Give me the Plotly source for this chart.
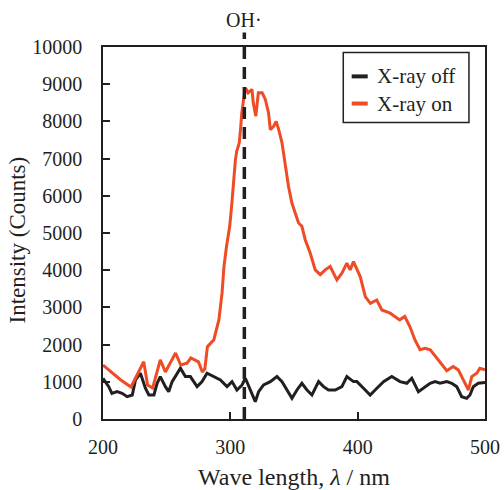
import plotly.graph_objects as go

# ---- data ----
on_x = [200, 206, 214, 222, 224, 232, 235, 239, 245, 249, 257, 261, 266, 269, 275, 278, 280,
        282, 287, 291, 293.5, 295, 297, 299.5, 301, 302.6, 304, 305, 307, 308, 309, 310.4, 312,
        314, 317, 318, 320, 322, 325, 327.5, 330, 331.4, 334, 336, 338, 340.6, 343, 345.7, 348.4,
        351, 353.6, 356.2, 358.8, 362.7, 366.7, 370.6, 374.5, 378.4, 383.7, 387.6, 391.5, 394.1,
        396.7, 402, 406, 410, 415, 419, 425.5, 433, 437, 441, 445, 449, 453, 457, 461, 465, 470,
        475, 479, 483, 487, 489.6, 493.5, 496, 500]
on_y = [1450, 1270, 1050, 860, 1000, 1540, 915, 835, 1590, 1265, 1775, 1450, 1500, 1640, 1535, 1265, 1350,
        1946, 2127, 2665, 3390, 4100, 4640, 5180, 5715, 6430, 6970, 7195, 7420, 7780, 8230, 8590, 8900,
        8770, 8860, 8500, 8140, 8770, 8770, 8590, 8230, 7780, 7870, 8000, 7780, 7420, 6880, 6250, 5800,
        5540, 5270, 5180, 4820, 4460, 4010, 3880, 4010, 4100, 3740, 3920, 4190, 4010,
        4230, 3830, 3290, 3110, 3200, 2930, 2845, 2665, 2755, 2485, 2125, 1860, 1900, 1860, 1680, 1500, 1300,
        1410, 1320, 1050, 780, 1140, 1230, 1365, 1320]

off_x = [200, 204.5, 207, 211, 215, 219, 223, 225.5, 229.4, 233.3, 236, 240, 242.5, 245, 249, 251.6,
         254.3, 258.2, 260.8, 264.7, 268.6, 273.9, 277.8, 281.7, 286.9, 292.2, 297.4, 301.3, 305.2,
         309.2, 311.8, 315.7, 319.6, 322.2, 326.1, 331.4, 336.6, 340.6, 344.5, 348.4, 352.3, 356.2,
         360.2, 364.1, 369.3, 373.2, 377.1, 382.4, 387.6, 391.5, 396.7, 399.4, 404.6, 409.8, 415.1,
         420.3, 426.8, 433.3, 438.6, 442.5, 447.7, 451.6, 456.9, 460.8, 464.7, 470, 473.9, 477.8,
         481.7, 485.6, 488.2, 490.8, 494.7, 500]
off_y = [1095, 870, 690, 735, 690, 600, 645, 1050, 1230, 826, 645, 645, 960, 1140, 870, 735,
         1005, 1230, 1365, 1140, 1140, 870, 1005, 1230, 1140, 1050, 870, 1005, 780,
         915, 1095, 780, 465, 735, 915, 1005, 1140, 1005, 780, 555, 780, 960,
         780, 645, 1005, 870, 780, 780, 870, 1140, 1005, 1005, 826, 645, 826,
         1005, 1140, 1005, 960, 1095, 735, 826, 960, 1005, 960, 1005, 960, 870,
         600, 555, 645, 870, 960, 980]

oh_wavelength = 311
series_names = ["X-ray off", "X-ray on"]
x_ticks = [200, 300, 400, 500]

BLACK = "#231F20"
ORANGE = "#EF4B24"
FONT = "Liberation Serif"

fig = go.Figure()
fig.add_trace(go.Scatter(x=off_x, y=off_y, mode="lines", name=series_names[0],
                         line=dict(color=BLACK, width=3), showlegend=False))
fig.add_trace(go.Scatter(x=on_x, y=on_y, mode="lines", name=series_names[1],
                         line=dict(color=ORANGE, width=3), showlegend=False))

# dashed OH line
fig.add_shape(type="line", xref="x", yref="paper", x0=oh_wavelength, x1=oh_wavelength,
              y0=0, y1=1.039, line=dict(color=BLACK, width=3.5, dash="12px,8px"), layer="above")
fig.add_annotation(x=oh_wavelength, xref="x", y=1.072, yref="paper", text="OH·",
                   showarrow=False, font=dict(family=FONT, size=20, color=BLACK),
                   xanchor="center", yanchor="middle")

# y-axis title
fig.add_annotation(x=-0.223, xref="paper", y=0.482, yref="paper", text="Intensity (Counts)",
                   textangle=-90, showarrow=False, xanchor="center", yanchor="middle",
                   font=dict(family=FONT, size=23, color=BLACK))

# legend (custom)
fig.add_shape(type="rect", xref="paper", yref="paper", x0=0.629, x1=0.958, y0=0.797, y1=0.985,
              line=dict(color=BLACK, width=1.5), fillcolor="white", layer="above")
for i, (nm, col) in enumerate(zip(series_names, [BLACK, ORANGE])):
    yy = 0.921 - i * 0.073
    fig.add_shape(type="line", xref="paper", yref="paper", x0=0.651, x1=0.693, y0=yy, y1=yy,
                  line=dict(color=col, width=4), layer="above")
    fig.add_annotation(x=0.712, xref="paper", y=yy, yref="paper", text=nm, showarrow=False,
                       xanchor="left", yanchor="middle",
                       font=dict(family=FONT, size=21, color=BLACK))

fig.update_layout(
    width=504, height=490,
    margin=dict(l=103, r=19, t=47, b=71),
    paper_bgcolor="white", plot_bgcolor="white",
    font=dict(family=FONT, size=20, color=BLACK),
    showlegend=False,
)
fig.update_xaxes(range=[200, 500], tickvals=x_ticks, ticks="inside", ticklen=7, tickwidth=1.5,
                 tickcolor=BLACK, showline=True, linecolor=BLACK, linewidth=1.5, mirror=True,
                 showgrid=False, zeroline=False, ticklabelstandoff=9, automargin=False,
                 title=dict(text="Wave length, <i>λ</i> / nm", standoff=12))
fig.update_yaxes(range=[0, 10000], dtick=1000, tickformat="d", ticks="inside", ticklen=7,
                 tickwidth=1.5, tickcolor=BLACK, showline=True, linecolor=BLACK, linewidth=1.5,
                 mirror=True, showgrid=False, zeroline=False, ticklabelstandoff=15,
                 automargin=False)

fig.write_html("out.html", config={"displayModeBar": False},
               post_script="document.body.style.margin='0px';document.body.style.padding='0px';"
                           "document.body.style.overflow='hidden';")
